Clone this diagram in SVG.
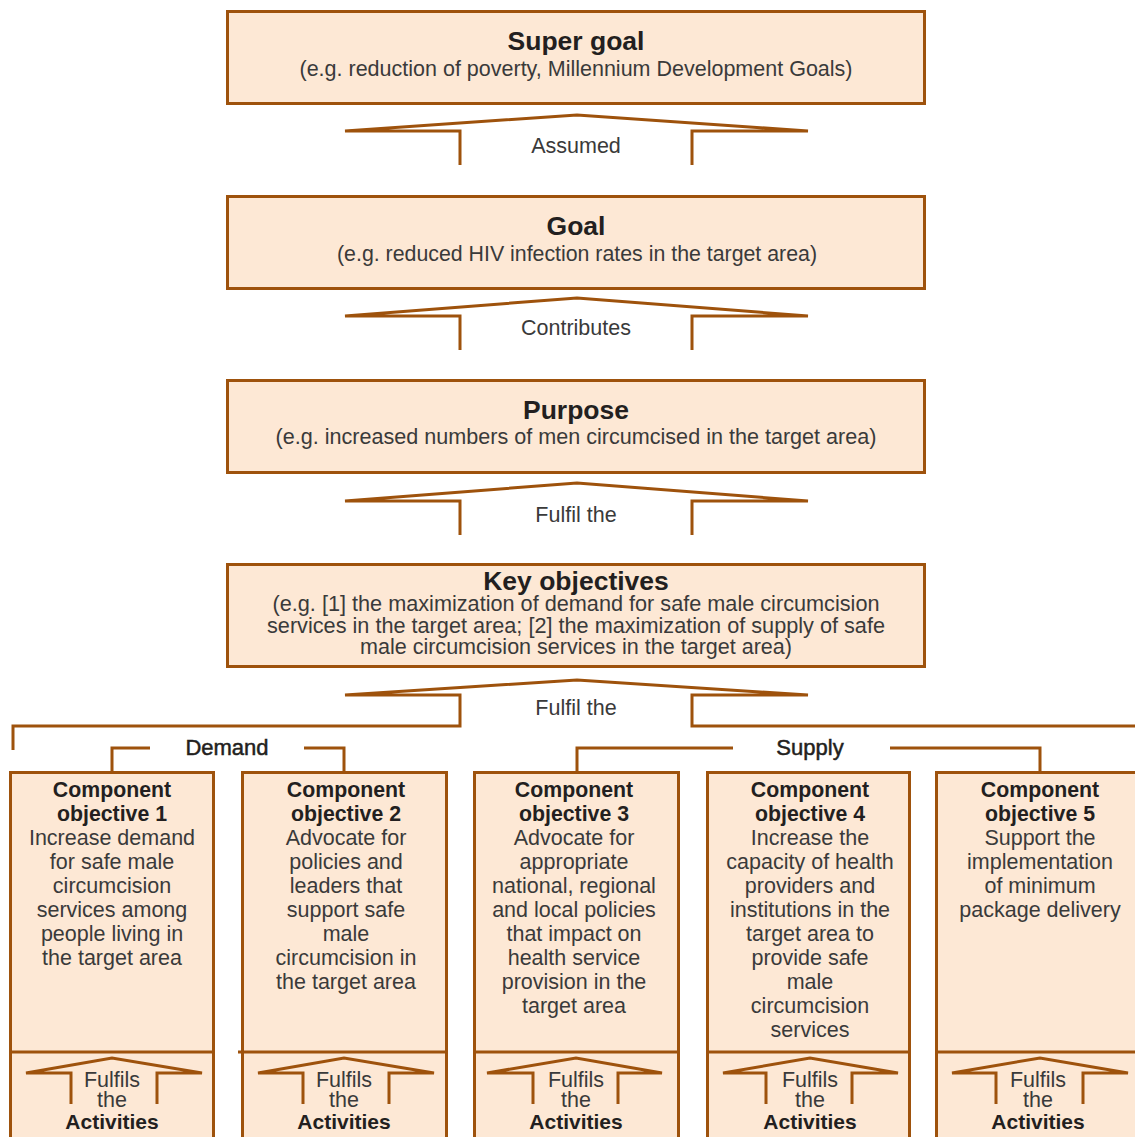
<svg xmlns="http://www.w3.org/2000/svg" width="1135" height="1137" viewBox="0 0 1135 1137">
<style>
.box{fill:#fde8d5;stroke:#9e520c;stroke-width:3}
.ln{fill:none;stroke:#9e520c;stroke-width:3;stroke-linejoin:miter}
text{font-family:"Liberation Sans",Arial,sans-serif;text-anchor:middle}
.t{font-size:26.5px;font-weight:bold;fill:#231f20}
.s{font-size:21.5px;fill:#3a3a3a}
.lb{font-size:21.5px;fill:#3a3a3a}
.g{font-size:22px;fill:#231f20;stroke:#231f20;stroke-width:0.5}
.ch{font-size:21.3px;font-weight:bold;fill:#231f20}
.cb{font-size:21.5px;fill:#3a3a3a}
.ca{font-size:21px;font-weight:bold;fill:#231f20}
</style>
<rect width="1135" height="1137" fill="#ffffff"/>
<g id="super-goal">
<rect class="box" x="227.5" y="11.5" width="697" height="92"/>
<text class="t" x="576" y="50">Super goal</text>
<text class="s" x="576" y="76" textLength="553" lengthAdjust="spacingAndGlyphs">(e.g. reduction of poverty, Millennium Development Goals)</text>
</g>
<g id="goal">
<rect class="box" x="227.5" y="196.5" width="697" height="92"/>
<text class="t" x="576" y="235">Goal</text>
<text class="s" x="577" y="261" textLength="480" lengthAdjust="spacingAndGlyphs">(e.g. reduced HIV infection rates in the target area)</text>
</g>
<g id="purpose">
<rect class="box" x="227.5" y="380.5" width="697" height="92"/>
<text class="t" x="576" y="419">Purpose</text>
<text class="s" x="576" y="444" textLength="601" lengthAdjust="spacingAndGlyphs">(e.g. increased numbers of men circumcised in the target area)</text>
</g>
<g id="key-objectives">
<rect class="box" x="227.5" y="564.5" width="697" height="102"/>
<text class="t" x="576" y="590">Key objectives</text>
<text class="s" x="576" y="611" textLength="607" lengthAdjust="spacingAndGlyphs">(e.g. [1] the maximization of demand for safe male circumcision</text>
<text class="s" x="576" y="633" textLength="618" lengthAdjust="spacingAndGlyphs">services in the target area; [2] the maximization of supply of safe</text>
<text class="s" x="576" y="654" textLength="432" lengthAdjust="spacingAndGlyphs">male circumcision services in the target area)</text>
</g>
<g id="comp1">
<rect class="box" x="10.5" y="772.5" width="203" height="370"/>
<line class="ln" x1="10" y1="1052" x2="214" y2="1052"/>
<text class="ch" x="112" y="797">Component</text>
<text class="ch" x="112" y="821">objective 1</text>
<text class="cb" x="112" y="845">Increase demand</text>
<text class="cb" x="112" y="869">for safe male</text>
<text class="cb" x="112" y="893">circumcision</text>
<text class="cb" x="112" y="917">services among</text>
<text class="cb" x="112" y="941">people living in</text>
<text class="cb" x="112" y="965">the target area</text>
<polyline class="ln" points="71,1104 71,1073 26,1073 112,1058 202,1073 157,1073 157,1104"/>
<text class="cb" x="112" y="1087">Fulfils</text>
<text class="cb" x="112" y="1107">the</text>
<text class="ca" x="112" y="1129">Activities</text>
</g>
<g id="comp2">
<rect class="box" x="242.5" y="772.5" width="204" height="370"/>
<line class="ln" x1="238" y1="1052" x2="447" y2="1052"/>
<text class="ch" x="346" y="797">Component</text>
<text class="ch" x="346" y="821">objective 2</text>
<text class="cb" x="346" y="845">Advocate for</text>
<text class="cb" x="346" y="869">policies and</text>
<text class="cb" x="346" y="893">leaders that</text>
<text class="cb" x="346" y="917">support safe</text>
<text class="cb" x="346" y="941">male</text>
<text class="cb" x="346" y="965">circumcision in</text>
<text class="cb" x="346" y="989">the target area</text>
<polyline class="ln" points="303,1104 303,1073 258,1073 344,1058 434,1073 389,1073 389,1104"/>
<text class="cb" x="344" y="1087">Fulfils</text>
<text class="cb" x="344" y="1107">the</text>
<text class="ca" x="344" y="1129">Activities</text>
</g>
<g id="comp3">
<rect class="box" x="474.5" y="772.5" width="204" height="370"/>
<line class="ln" x1="474" y1="1052" x2="679" y2="1052"/>
<text class="ch" x="574" y="797">Component</text>
<text class="ch" x="574" y="821">objective 3</text>
<text class="cb" x="574" y="845">Advocate for</text>
<text class="cb" x="574" y="869">appropriate</text>
<text class="cb" x="574" y="893">national, regional</text>
<text class="cb" x="574" y="917">and local policies</text>
<text class="cb" x="574" y="941">that impact on</text>
<text class="cb" x="574" y="965">health service</text>
<text class="cb" x="574" y="989">provision in the</text>
<text class="cb" x="574" y="1013">target area</text>
<polyline class="ln" points="533,1104 533,1073 487,1073 576,1058 662,1073 618,1073 618,1104"/>
<text class="cb" x="576" y="1087">Fulfils</text>
<text class="cb" x="576" y="1107">the</text>
<text class="ca" x="576" y="1129">Activities</text>
</g>
<g id="comp4">
<rect class="box" x="707.5" y="772.5" width="202" height="370"/>
<line class="ln" x1="707" y1="1052" x2="910" y2="1052"/>
<text class="ch" x="810" y="797">Component</text>
<text class="ch" x="810" y="821">objective 4</text>
<text class="cb" x="810" y="845">Increase the</text>
<text class="cb" x="810" y="869">capacity of health</text>
<text class="cb" x="810" y="893">providers and</text>
<text class="cb" x="810" y="917">institutions in the</text>
<text class="cb" x="810" y="941">target area to</text>
<text class="cb" x="810" y="965">provide safe</text>
<text class="cb" x="810" y="989">male</text>
<text class="cb" x="810" y="1013">circumcision</text>
<text class="cb" x="810" y="1037">services</text>
<polyline class="ln" points="766,1104 766,1073 723,1073 810,1058 898,1073 852,1073 852,1104"/>
<text class="cb" x="810" y="1087">Fulfils</text>
<text class="cb" x="810" y="1107">the</text>
<text class="ca" x="810" y="1129">Activities</text>
</g>
<g id="comp5">
<rect class="box" x="936.5" y="772.5" width="210" height="370"/>
<line class="ln" x1="936" y1="1052" x2="1135" y2="1052"/>
<text class="ch" x="1040" y="797">Component</text>
<text class="ch" x="1040" y="821">objective 5</text>
<text class="cb" x="1040" y="845">Support the</text>
<text class="cb" x="1040" y="869">implementation</text>
<text class="cb" x="1040" y="893">of minimum</text>
<text class="cb" x="1040" y="917">package delivery</text>
<polyline class="ln" points="996,1104 996,1073 952,1073 1040,1058 1128,1073 1083,1073 1083,1104"/>
<text class="cb" x="1038" y="1087">Fulfils</text>
<text class="cb" x="1038" y="1107">the</text>
<text class="ca" x="1038" y="1129">Activities</text>
</g>
<g id="connectors">
<polyline class="ln" points="460,165 460,131 345,131 577,115 808,131 692,131 692,165"/>
<text class="lb" x="576" y="153">Assumed</text>
<polyline class="ln" points="460,350 460,316 345,316 577,298 808,316 692,316 692,350"/>
<text class="lb" x="576" y="335">Contributes</text>
<polyline class="ln" points="460,535 460,501 345,501 577,483 808,501 692,501 692,535"/>
<text class="lb" x="576" y="522">Fulfil the</text>
<polyline class="ln" points="13,750 13,726 460,726 460,695 345,695 577,680 808,695 692,695 692,726 1140,726"/>
<text class="lb" x="576" y="715">Fulfil the</text>
<polyline class="ln" points="112,772 112,748 150,748"/>
<polyline class="ln" points="304,748 344,748 344,772"/>
<text class="g" x="227" y="755">Demand</text>
<polyline class="ln" points="577,772 577,748 733,748"/>
<polyline class="ln" points="890,748 1040,748 1040,772"/>
<text class="g" x="810" y="755">Supply</text>
</g>
</svg>
